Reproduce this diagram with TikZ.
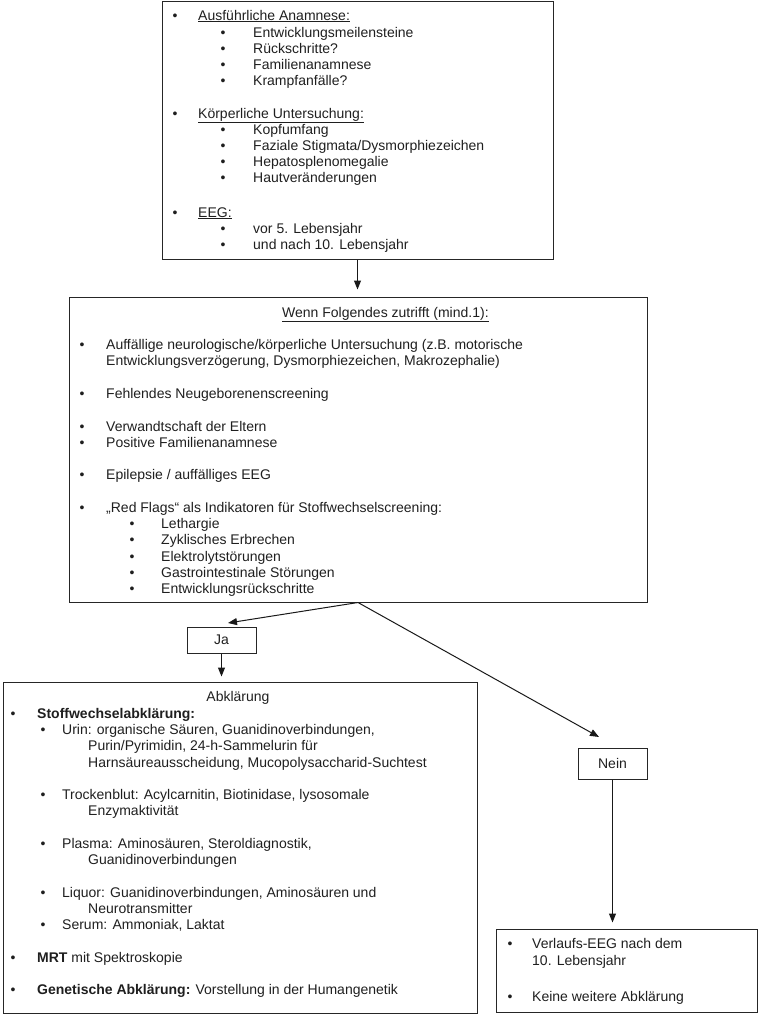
\documentclass[tikz,border=0pt]{standalone}
\usepackage{fontspec}
\setmainfont{Liberation Sans}
\usetikzlibrary{arrows.meta}
\newcounter{lnc}
\newcommand{\itm}[4]{\stepcounter{lnc}\node[bul] (b\thelnc) at (#1,#3) {\textbullet};\node[txt] (t\thelnc) at (#2,#3) {#4};}
\newcommand{\lin}[3]{\stepcounter{lnc}\node[txt] (t\thelnc) at (#1,#2) {#3};}
\begin{document}
\begin{tikzpicture}[x=1pt,y=-1pt,
  txt/.style={anchor=base west,inner sep=0pt,text=black!88,font=\fontsize{14}{16}\selectfont},
  bul/.style={anchor=base,inner sep=0pt,text=black!88,font=\fontsize{14}{16}\selectfont},
  box/.style={draw=black!85,line width=1pt,inner sep=0pt,rectangle},
  lbl/.style={box,text=black!88,font=\fontsize{14}{16}\selectfont},
  arr/.style={-{Triangle[width=7pt,length=9pt]},line width=1pt,draw=black!90}]
\useasboundingbox (0,0) rectangle (762,1015);
% boxes
\node[box,minimum width=391pt,minimum height=258pt] (box1) at (357.5,130) {};
\node[box,minimum width=578pt,minimum height=305pt] (box2) at (358,449.5) {};
\node[lbl,minimum width=69pt,minimum height=26pt] (ja) at (221.5,640) {Ja};
\node[lbl,minimum width=69pt,minimum height=31pt] (nein) at (612.5,763.5) {Nein};
\node[box,minimum width=474pt,minimum height=331pt] (abk) at (240,847.5) {};
\node[box,minimum width=261pt,minimum height=83pt] (box3) at (626.5,970.5) {};
% box 1 text
\itm{175}{198}{20}{\underline{Ausführliche Anamnese:}}
\itm{223}{253}{37}{Entwicklungsmeilensteine}
\itm{223}{253}{53}{Rückschritte?}
\itm{223}{253}{69}{Familienanamnese}
\itm{223}{253}{85}{Krampfanfälle?}
\itm{175}{198}{118}{\underline{Körperliche Untersuchung:}}
\itm{223}{253}{134}{Kopfumfang}
\itm{223}{253}{150}{Faziale Stigmata/Dysmorphiezeichen}
\itm{223}{253}{166}{Hepatosplenomegalie}
\itm{223}{253}{182}{Hautveränderungen}
\itm{175}{198}{217}{\underline{EEG:}}
\itm{223}{253}{233}{vor 5. Lebensjahr}
\itm{223}{253}{249}{und nach 10. Lebensjahr}
% box 2 text
\lin{282}{317}{\underline{Wenn Folgendes zutrifft (mind.1):}}
\itm{82}{106}{349}{Auffällige neurologische/körperliche Untersuchung (z.B. motorische}
\lin{106}{365}{Entwicklungsverzögerung, Dysmorphiezeichen, Makrozephalie)}
\itm{82}{106}{398}{Fehlendes Neugeborenenscreening}
\itm{82}{106}{431}{Verwandtschaft der Eltern}
\itm{82}{106}{447}{Positive Familienanamnese}
\itm{82}{106}{479}{Epilepsie / auffälliges EEG}
\itm{82}{106}{512}{„Red Flags“ als Indikatoren für Stoffwechselscreening:}
\itm{132}{161}{528}{Lethargie}
\itm{132}{161}{544}{Zyklisches Erbrechen}
\itm{132}{161}{561}{Elektrolytstörungen}
\itm{132}{161}{577}{Gastrointestinale Störungen}
\itm{132}{161}{593}{Entwicklungsrückschritte}
% Abklaerung text
\stepcounter{lnc}\node[bul] (t\thelnc) at (238,701) {Abklärung};
\itm{13}{37}{718}{\textbf{Stoffwechselabklärung:}}
\itm{43}{62}{734}{Urin: organische Säuren, Guanidinoverbindungen,}
\lin{88}{750}{Purin/Pyrimidin, 24-h-Sammelurin für}
\lin{88}{767}{Harnsäureausscheidung, Mucopolysaccharid-Suchtest}
\itm{43}{62}{799}{Trockenblut: Acylcarnitin, Biotinidase, lysosomale}
\lin{88}{815}{Enzymaktivität}
\itm{43}{62}{848}{Plasma: Aminosäuren, Steroldiagnostik,}
\lin{88}{864}{Guanidinoverbindungen}
\itm{43}{62}{897}{Liquor: Guanidinoverbindungen, Aminosäuren und}
\lin{88}{913}{Neurotransmitter}
\itm{43}{62}{929}{Serum: Ammoniak, Laktat}
\itm{13}{37}{962}{\textbf{MRT} mit Spektroskopie}
\itm{13}{37}{994}{\textbf{Genetische Abklärung:} Vorstellung in der Humangenetik}
% box 3 text
\itm{510}{532}{948}{Verlaufs-EEG nach dem}
\lin{532}{965}{10. Lebensjahr}
\itm{510}{532}{1001}{Keine weitere Abklärung}
% connectors
\coordinate (jatip) at (228,623);
\coordinate (neintip) at (599,737);
\draw[arr,shorten >=7pt] (box1.south) -- (box1.south |- box2.north);
\draw[arr] (box2.south) -- (jatip);
\draw[arr] (box2.south) -- (neintip);
\draw[arr,shorten >=5pt] (ja.south) -- (ja.south |- abk.north);
\draw[arr,shorten >=6pt] (nein.south) -- (nein.south |- box3.north);
\end{tikzpicture}
\end{document}
